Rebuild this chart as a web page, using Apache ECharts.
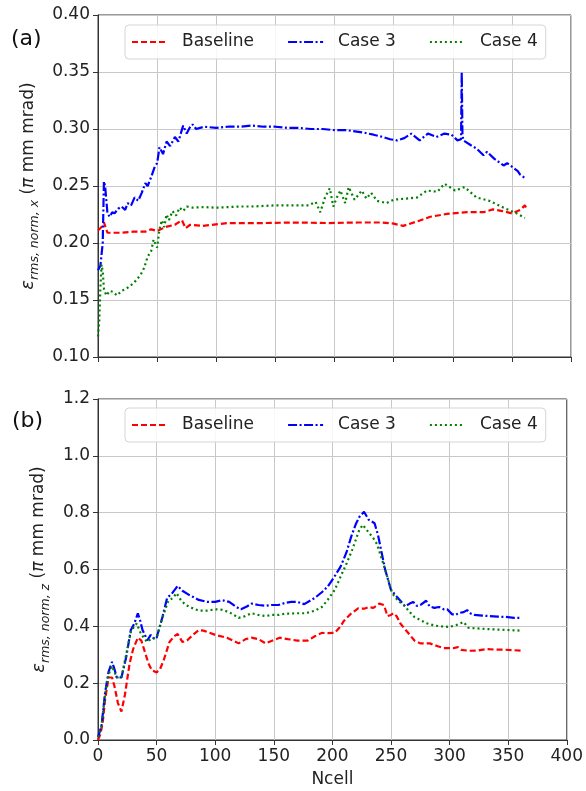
<!DOCTYPE html>
<html>
<head>
<meta charset="utf-8">
<script src="https://cdn.jsdelivr.net/npm/echarts@6/dist/echarts.min.js"></script>
<style>html,body{margin:0;padding:0;background:#fff;}#c{width:586px;height:791px;}</style>
</head>
<body>
<div id="c"></div>
<script>
// ---------- DATA ----------
const seriesNames = ['Baseline', 'Case 3', 'Case 4'];
const xTicks = [0, 50, 100, 150, 200, 250, 300, 350, 400];
const yTicksTop = [0.10, 0.15, 0.20, 0.25, 0.30, 0.35, 0.40];
const yTicksBottom = [0.0, 0.2, 0.4, 0.6, 0.8, 1.0, 1.2];

// (a) x-emittance
const topBaseN = [0,3,5,8,12,20,30,40,45,50,57,65,71,74,78,88,110,139,167,195,220,240,250,258,270,281,295,312,326,334,342,350,357,361,363];
const topBaseV = [0.211,0.214,0.218,0.209,0.209,0.209,0.210,0.210,0.212,0.2105,0.214,0.216,0.220,0.213,0.216,0.215,0.2175,0.2175,0.218,0.2175,0.218,0.218,0.217,0.215,0.219,0.223,0.2255,0.227,0.227,0.2295,0.228,0.226,0.229,0.233,0.229];

const topCase3N = [0,2,4,5,6,8,10,12,14,17,20,23,25,28,31,34,37,40,42,45,48,50,52,55,58,61,65,68,72,75,78,80,83,90,100,110,120,130,140,150,160,170,180,190,200,210,224,233,241,247,253,259,265,272,279,286,293,299,304,307,307.6,308.2,309,315,320,326,329,335,343,346,350,355,357,361];
const topCase3V = [0.176,0.180,0.200,0.254,0.250,0.226,0.223,0.227,0.226,0.230,0.232,0.229,0.235,0.233,0.240,0.237,0.244,0.2525,0.250,0.258,0.267,0.270,0.284,0.278,0.289,0.285,0.293,0.289,0.303,0.296,0.302,0.304,0.300,0.302,0.301,0.302,0.302,0.303,0.302,0.302,0.301,0.301,0.300,0.300,0.299,0.299,0.297,0.295,0.293,0.291,0.290,0.292,0.296,0.290,0.296,0.293,0.296,0.295,0.290,0.291,0.350,0.295,0.290,0.286,0.283,0.277,0.280,0.274,0.268,0.270,0.267,0.263,0.260,0.257];

const topCase4N = [0,1,2,3,4,5,7,10,13,16,20,24,28,32,36,39,42,45,47,49,50,52,54,56,58,60,63,66,69,72,75,80,90,100,110,120,130,140,150,160,170,178,184,188,192,196,199,202,205,209,212,217,223,227,231,236,244,250,261,270,278,287,293,302,310,320,331,343,354,361];
const topCase4V = [0.118,0.130,0.160,0.181,0.175,0.160,0.154,0.158,0.157,0.154,0.158,0.160,0.163,0.167,0.172,0.178,0.188,0.193,0.203,0.198,0.196,0.212,0.220,0.214,0.225,0.220,0.228,0.224,0.231,0.228,0.232,0.231,0.2315,0.231,0.2315,0.232,0.232,0.2325,0.233,0.233,0.233,0.233,0.236,0.227,0.240,0.248,0.232,0.240,0.246,0.235,0.249,0.238,0.246,0.239,0.244,0.237,0.235,0.238,0.239,0.240,0.246,0.245,0.252,0.246,0.249,0.240,0.237,0.231,0.226,0.222];

// (b) z-emittance
const botBaseN = [0,2,4,6,9,12,14,17,20,23,27,30,34,37,40,43,46,50,53,56,61,65,68,72,76,81,86,90,100,110,120,126,131,137,143,149,155,162,170,179,185,191,196,202,206,210,216,222,227,231,235,240,244,247,250,252,255,258,264,270,275,283,290,295,303,307,310,317,324,331,340,346,355,363];
const botBaseV = [0.0,0.02,0.06,0.14,0.22,0.22,0.19,0.13,0.10,0.16,0.27,0.32,0.36,0.35,0.31,0.27,0.245,0.238,0.25,0.28,0.345,0.365,0.373,0.345,0.35,0.37,0.387,0.385,0.37,0.36,0.34,0.355,0.36,0.355,0.34,0.35,0.36,0.355,0.35,0.35,0.365,0.377,0.376,0.377,0.395,0.42,0.445,0.463,0.462,0.468,0.465,0.48,0.475,0.436,0.44,0.446,0.435,0.41,0.38,0.35,0.34,0.34,0.33,0.323,0.323,0.327,0.317,0.314,0.315,0.32,0.318,0.318,0.316,0.314];

const botCase3N = [0,3,6,9,12,14,16,20,24,28,31,34,36,38,40,42,45,48,50,55,59,63,68,72,78,86,93,100,106,112,118,122,127,131,137,143,148,154,160,165,170,176,185,191,196,201,207,212,216,220,223,227,231,236,239,241,245,250,255,258,262,266,269,272,275,280,283,287,291,295,298,302,305,308,312,315,318,321,328,334,341,348,355,361];
const botCase3V = [0.01,0.05,0.165,0.24,0.275,0.25,0.22,0.22,0.29,0.387,0.41,0.446,0.42,0.387,0.37,0.35,0.37,0.355,0.36,0.433,0.50,0.515,0.542,0.525,0.51,0.493,0.486,0.486,0.492,0.486,0.468,0.46,0.47,0.48,0.475,0.472,0.475,0.475,0.483,0.486,0.486,0.478,0.50,0.52,0.54,0.57,0.61,0.66,0.715,0.76,0.785,0.803,0.775,0.763,0.72,0.68,0.60,0.528,0.504,0.49,0.47,0.48,0.486,0.472,0.475,0.49,0.47,0.465,0.468,0.46,0.46,0.443,0.44,0.447,0.45,0.457,0.445,0.44,0.438,0.436,0.434,0.433,0.43,0.43];

const botCase4N = [0,3,6,9,12,14,16,20,24,28,31,33,36,39,42,45,50,55,60,64,67,71,75,80,86,93,100,106,112,120,125,131,137,143,148,154,160,165,170,177,185,191,196,202,207,212,217,223,226,231,235,238,242,245,251,256,261,266,270,276,281,287,292,300,306,312,316,322,334,345,355,361];
const botCase4V = [0.01,0.05,0.16,0.23,0.26,0.24,0.22,0.22,0.30,0.38,0.40,0.41,0.38,0.36,0.345,0.355,0.36,0.43,0.49,0.50,0.517,0.49,0.475,0.465,0.455,0.455,0.46,0.458,0.45,0.43,0.435,0.446,0.44,0.436,0.44,0.44,0.445,0.445,0.446,0.446,0.455,0.468,0.493,0.528,0.575,0.62,0.67,0.74,0.757,0.73,0.71,0.69,0.64,0.60,0.517,0.49,0.475,0.45,0.433,0.42,0.41,0.403,0.40,0.398,0.405,0.415,0.395,0.393,0.39,0.388,0.386,0.385];

// ---------- CHART ----------
const FONT = 'DejaVu Sans';
const zip = (a, b) => a.map((v, i) => [v, b[i]]);
const colors = ['#ff0000', '#0000ff', '#008000'];
const dashes = [[6, 3], [9, 2.5, 2, 2.5], [2, 3]];

const chart = echarts.init(document.getElementById('c'), null, {renderer: 'canvas'});

function xAxisCfg(gi, showLabels) {
  return {
    type: 'value', gridIndex: gi, min: xTicks[0], max: xTicks[xTicks.length - 1], interval: 50,
    axisLine: {show: true, lineStyle: {color: '#333', width: 1}},
    axisTick: {show: true, length: 5, lineStyle: {color: '#333'}},
    axisLabel: {show: showLabels, fontFamily: FONT, fontSize: 17, color: '#222', margin: 8},
    splitLine: {show: true, lineStyle: {color: '#c8c8c8', width: 1}},
    name: showLabels ? 'Ncell' : '', nameLocation: 'middle', nameGap: 31,
    nameTextStyle: {fontFamily: FONT, fontSize: 17, color: '#222'}
  };
}
function yAxisCfg(gi, ticks, interval, digits, nameSub, gap) {
  return {
    type: 'value', gridIndex: gi, min: ticks[0], max: ticks[ticks.length - 1], interval: interval,
    axisLine: {show: true, lineStyle: {color: '#333', width: 1}},
    axisTick: {show: true, length: 5, lineStyle: {color: '#333'}},
    axisLabel: {fontFamily: FONT, fontSize: 17, color: '#222', margin: 8,
      formatter: v => v.toFixed(digits)},
    splitLine: {show: true, lineStyle: {color: '#c8c8c8', width: 1}},
    name: '{e|ε}{s|' + nameSub + '}{t| (}{p|π}{t| mm mrad)}',
    nameLocation: 'middle', nameRotate: 90, nameGap: gap,
    nameTextStyle: {
      fontFamily: FONT, color: '#222',
      rich: {
        e: {fontFamily: FONT, fontSize: 18, fontStyle: 'italic', color: '#222', lineHeight: 26, verticalAlign: 'middle'},
        s: {fontFamily: FONT, fontSize: 12.5, fontStyle: 'italic', color: '#222', lineHeight: 26, verticalAlign: 'bottom'},
        t: {fontFamily: FONT, fontSize: 17, color: '#222', lineHeight: 26, verticalAlign: 'middle'},
        p: {fontFamily: FONT, fontSize: 17, fontStyle: 'italic', color: '#222', lineHeight: 26, verticalAlign: 'middle'}
      }
    }
  };
}
function lineSeries(name, idx, gi, data) {
  return {
    type: 'line', name: name, xAxisIndex: gi, yAxisIndex: gi, data: data,
    showSymbol: false, symbol: 'none', smooth: false, animation: false,
    lineStyle: {color: colors[idx], width: 2.2, type: dashes[idx]},
    itemStyle: {color: colors[idx]}
  };
}
function legendCfg(top) {
  return {
    data: seriesNames, left: 125, top: top, orient: 'horizontal',
    itemWidth: 35, itemHeight: 14, itemGap: 33,
    padding: [8, 8, 8, 6],
    itemStyle: {opacity: 0},
    backgroundColor: 'rgba(255,255,255,0.85)', borderColor: '#d5d5d5', borderWidth: 1, borderRadius: 4,
    textStyle: {fontFamily: FONT, fontSize: 17, color: '#222', padding: [0, 0, 0, 10], lineHeight: 18},
    selectedMode: false
  };
}

chart.setOption({
  backgroundColor: '#fff',
  animation: false,
  grid: [
    {left: 98, top: 15, width: 473, height: 342, show: true, borderColor: '#333', borderWidth: 1, backgroundColor: 'transparent'},
    {left: 98, top: 399, width: 473, height: 341, show: true, borderColor: '#333', borderWidth: 1, backgroundColor: 'transparent'}
  ],
  xAxis: [xAxisCfg(0, false), xAxisCfg(1, true)],
  yAxis: [yAxisCfg(0, yTicksTop, 0.05, 2, 'rms, norm, x', 54), yAxisCfg(1, yTicksBottom, 0.2, 1, 'rms, norm, z', 44)],
  legend: [legendCfg(25), legendCfg(408)],
  series: [
    lineSeries(seriesNames[0], 0, 0, zip(topBaseN, topBaseV)),
    lineSeries(seriesNames[1], 1, 0, zip(topCase3N, topCase3V)),
    lineSeries(seriesNames[2], 2, 0, zip(topCase4N, topCase4V)),
    lineSeries(seriesNames[0], 0, 1, zip(botBaseN, botBaseV)),
    lineSeries(seriesNames[1], 1, 1, zip(botCase3N, botCase3V)),
    lineSeries(seriesNames[2], 2, 1, zip(botCase4N, botCase4V))
  ],
  graphic: [
    {type: 'text', left: 11, top: 28, style: {text: '(a)', fontFamily: FONT, fontSize: 22, fill: '#111'}},
    {type: 'text', left: 12, top: 410, style: {text: '(b)', fontFamily: FONT, fontSize: 22, fill: '#111'}}
  ]
});
</script>
</body>
</html>
